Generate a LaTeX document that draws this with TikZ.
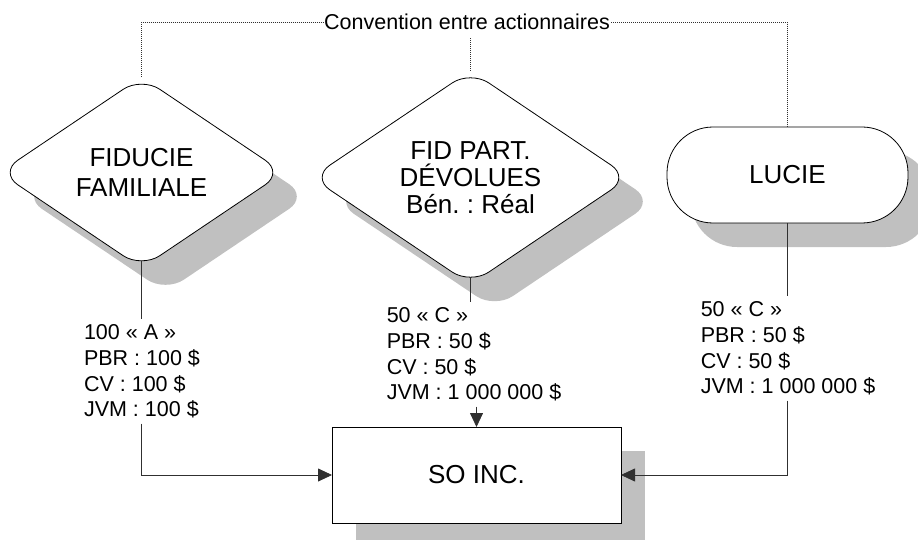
\documentclass[tikz,border=0pt]{standalone}
\usepackage{fontspec}
\setmainfont{Liberation Sans}
\usetikzlibrary{shapes.geometric,shadows,arrows.meta}
\definecolor{shade}{HTML}{C0C0C0}
\definecolor{linegray}{HTML}{303030}
\frenchspacing

\tikzset{
  entity/.style={draw=black, fill=white, line width=0.8pt, outer sep=0pt, inner sep=0pt,
    drop shadow={shadow xshift=24pt, shadow yshift=-24pt, fill=shade, opacity=1},
    font=\fontsize{26}{30}\selectfont, align=center},
  trust/.style={entity, diamond, rounded corners=22pt},
  person/.style={entity, rectangle, rounded corners=46pt},
  company/.style={entity, rectangle},
  holding/.style={font=\fontsize{21.5}{25.7}\selectfont, align=left, inner xsep=0pt, inner ysep=5pt},
  link/.style={draw=linegray, line width=0.8pt},
  arrowlink/.style={link, -{Triangle[length=14pt,width=13pt]}},
  pact/.style={draw=linegray, line width=0.8pt, dash pattern=on 0.8pt off 1.2pt},
}

\begin{document}
\begin{tikzpicture}[x=1pt,y=-1pt]
\useasboundingbox (0,0) rectangle (918,540);

% shareholders and the company
\node[trust, minimum width=284pt, minimum height=191pt] (fam) at (141.5,172.5) {FIDUCIE\\FAMILIALE};
\node[trust, minimum width=318pt, minimum height=209pt, font=\fontsize{26}{27}\selectfont] (fid) at (470.5,177.5) {FID PART.\\DÉVOLUES\\Bén. : Réal};
\node[person, minimum width=241pt, minimum height=96pt] (lucie) at (787.5,175) {LUCIE};
\node[company, minimum width=289pt, minimum height=96pt] (so) at (476.5,475) {SO INC.};

% shareholding details
\node[holding] (sA) at (142,371.5) {100 « A »\\PBR : 100 \$\\CV : 100 \$\\JVM : 100 \$};
\node[holding] (sC1) at (474,354.5) {50 « C »\\PBR : 50 \$\\CV : 50 \$\\JVM : 1 000 000 \$};
\node[holding] (sC2) at (788,348.5) {50 « C »\\PBR : 50 \$\\CV : 50 \$\\JVM : 1 000 000 \$};

% shareholders' agreement
\node[font=\fontsize{21.5}{25}\selectfont, inner xsep=1pt, inner ysep=8pt] (conv) at (467,22) {Convention entre actionnaires};

% holdings
\draw[link] ([yshift=7pt]fam.south) -- (fam.south |- sA.north);
\draw[arrowlink] (fam.south |- sA.south) -- (fam.south |- so.west) -- (so.west);
\draw[link] ([yshift=7pt]fid.south) -- (fid.south |- sC1.north);
\draw[arrowlink] (so.north |- sC1.south) -- (so.north);
\draw[link] (lucie.south) -- (lucie.south |- sC2.north);
\draw[arrowlink] (lucie.south |- sC2.south) -- (lucie.south |- so.east) -- (so.east);

% agreement links
\draw[pact] (fam.north) -- (fam.north |- conv.west) -- (conv.west);
\draw[pact] (conv.east) -- (lucie.north |- conv.east) -- (lucie.north);
\draw[pact] (fid.north |- conv.south) -- (fid.north);
\end{tikzpicture}
\end{document}
